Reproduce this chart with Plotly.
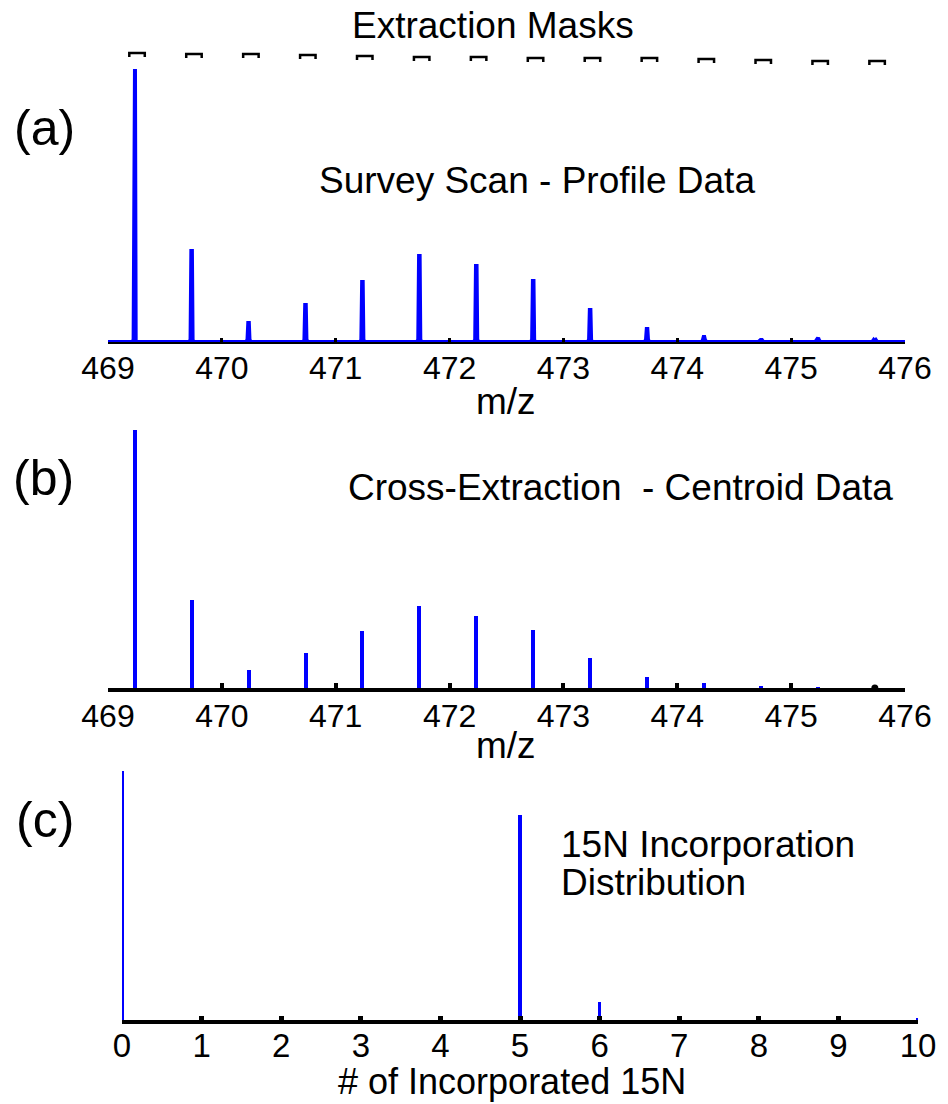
import plotly.graph_objects as go

W, H = 948, 1104

# ---------------- data ----------------
# isotope peak centres (m/z) for z = 2 envelope
peak_mz = [469.235, 469.735, 470.235, 470.735, 471.235, 471.735, 472.235,
           472.735, 473.235, 473.735, 474.235, 474.735, 475.235, 475.735]
# (a) survey scan profile heights (arbitrary intensity)
profile_height = [273, 91, 19, 37, 60, 86, 76, 61, 32, 13, 5, 2, 4, 1]
# (a) extraction mask heights (drawn above spectrum)
mask_level = [289, 288, 288, 287, 286, 285, 285, 284, 284, 284, 283, 282, 281, 281]
# (b) cross-extraction centroid intensities
centroid_height = [258, 88, 18, 35, 57, 82, 72, 58, 30, 11, 5, 2, 1, 0]
# (c) 15N incorporation distribution
n15 = [0, 5, 6, 10]
n15_height = [249, 205, 18, 2]

mz_ticks = [469, 470, 471, 472, 473, 474, 475, 476]
n_ticks = list(range(0, 11))

BLUE = "#0000ff"
FONT = "Liberation Sans, Arial, sans-serif"

# build profile line: baseline with narrow peaks
prof_x, prof_y = [469.0], [0]
for c, h in zip(peak_mz, profile_height):
    prof_x += [c - 0.022, c - 0.01, c - 0.003, c + 0.002, c + 0.008, c + 0.02]
    prof_y += [0, 2, h, h, 2, 0]
prof_x.append(476.0)
prof_y.append(0)

# extraction mask brackets
mask_x, mask_y = [], []
half = 0.068
for c, m in zip(peak_mz, mask_level):
    cc = c + 0.02
    mask_x += [cc - half, cc - half, cc + half, cc + half, None]
    mask_y += [m - 4, m, m, m - 4, None]

fig = go.Figure()

# ---- panel (a) ----
fig.add_trace(go.Scatter(x=prof_x, y=prof_y, mode="lines",
                         line=dict(color=BLUE, width=4), xaxis="x", yaxis="y",
                         hoverinfo="skip", showlegend=False))
fig.add_trace(go.Scatter(x=mask_x, y=mask_y, mode="lines",
                         line=dict(color="black", width=2.5), xaxis="x", yaxis="y",
                         hoverinfo="skip", showlegend=False, cliponaxis=False))

# ---- panel (b) ----
fig.add_trace(go.Bar(x=peak_mz[:-1], y=centroid_height[:-1], width=0.035,
                     marker=dict(color=BLUE, line=dict(width=0)),
                     xaxis="x2", yaxis="y2", showlegend=False))
fig.add_trace(go.Scatter(x=[peak_mz[-1]], y=[centroid_height[-1]], mode="markers",
                         marker=dict(color="black", size=7), xaxis="x2", yaxis="y2",
                         showlegend=False, cliponaxis=False))

# ---- panel (c) ----
fig.add_trace(go.Bar(x=n15, y=n15_height, width=0.045,
                     marker=dict(color=BLUE, line=dict(width=0)),
                     xaxis="x3", yaxis="y3", showlegend=False, cliponaxis=False))


def px_x(p):
    return p / W


def px_y(p):
    return 1 - p / H


tickfont = dict(family=FONT, size=32, color="black")
common_x = dict(showgrid=False, zeroline=False, showline=True, linecolor="black",
                ticks="inside", tickcolor="black", mirror=False, automargin=False)
common_y = dict(visible=False, range=[0, 300], fixedrange=True)

fig.update_layout(
    width=W, height=H,
    margin=dict(l=0, r=0, t=0, b=0, autoexpand=False),
    paper_bgcolor="white", plot_bgcolor="rgba(0,0,0,0)",
    bargap=0,
    xaxis=dict(domain=[px_x(108), px_x(905)], range=[469, 476], anchor="y",
               tickvals=mz_ticks, linewidth=2, ticklen=4, tickwidth=3,
               tickfont=tickfont, ticklabelstandoff=-3, **common_x),
    yaxis=dict(domain=[px_y(342), px_y(42)], anchor="x", **common_y),
    xaxis2=dict(domain=[px_x(108), px_x(905)], range=[469, 476], anchor="y2",
                tickvals=mz_ticks, linewidth=4, ticklen=5, tickwidth=4,
                tickfont=tickfont, ticklabelstandoff=-3, **common_x),
    yaxis2=dict(domain=[px_y(688), px_y(388)], anchor="x2", **common_y),
    xaxis3=dict(domain=[px_x(122), px_x(918)], range=[0, 10], anchor="y3",
                tickvals=n_ticks, linewidth=4, ticklen=4, tickwidth=5,
                tickfont=dict(family=FONT, size=33, color="black"),
                ticklabelstandoff=-7, **common_x),
    yaxis3=dict(domain=[px_y(1020), px_y(720)], anchor="x3", **common_y),
)


def ann(text, x, y, size, xanchor="center"):
    fig.add_annotation(text=text, x=px_x(x), y=px_y(y), xref="paper", yref="paper",
                       xanchor=xanchor, yanchor="middle", showarrow=False,
                       font=dict(family=FONT, size=size, color="black"))


ann("Extraction Masks", 493, 25, 37)
ann("(a)", 44, 128, 50)
ann("Survey Scan - Profile Data", 537, 180, 37)
ann("m/z", 506, 401, 37)
ann("(b)", 43, 478, 50)
ann("Cross-Extraction \u00a0- Centroid Data", 620, 487, 37)
ann("m/z", 506, 745, 37)
ann("(c)", 45, 820, 50)
ann("15N Incorporation", 559, 844, 37, xanchor="left")
ann("Distribution", 559, 882, 37, xanchor="left")
ann("# of Incorporated 15N", 512, 1081, 36)

fig.write_html("out.html")
